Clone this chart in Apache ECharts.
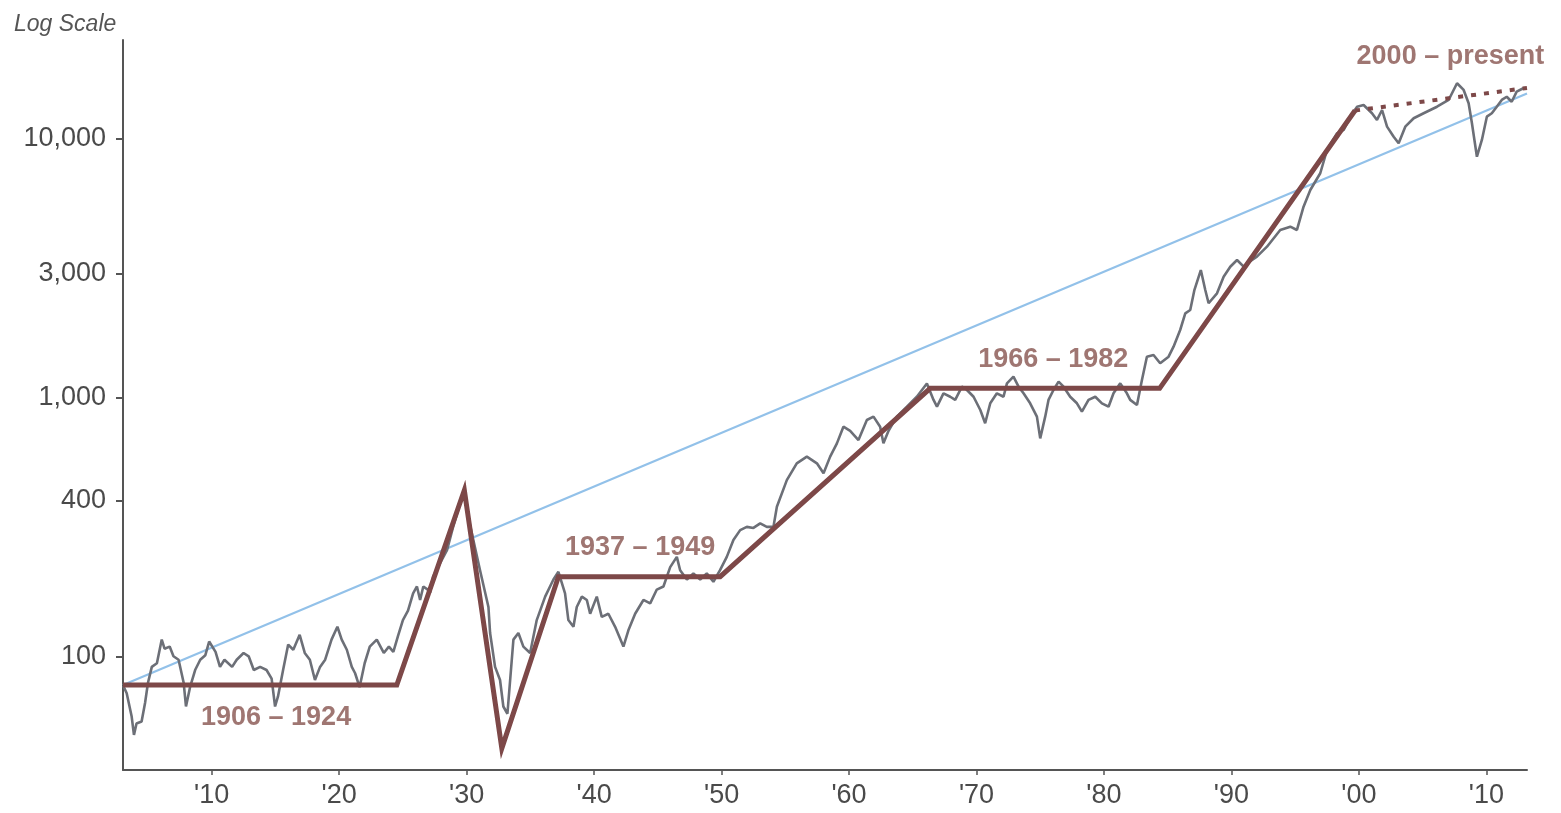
<!DOCTYPE html>
<html><head><meta charset="utf-8">
<script src="https://cdn.jsdelivr.net/npm/echarts@6/dist/echarts.min.js"></script>
<style>html,body{margin:0;padding:0;background:#ffffff}#c{width:1561px;height:813px}</style>
</head><body><div id="c"></div>
<script>
// Index level (log scale)
const indexYears = [
1903.06,1903.33,1903.72,1903.9,1904.1,1904.5,1904.77,1905.0,1905.3,1905.7,1906.08,1906.3,1906.7,1907.0,1907.4,1907.8,1907.98,1908.3,1908.7,1909.1,1909.5,1909.8,
1910.3,1910.65,1911.0,1911.6,1911.96,1912.5,1912.9,1913.3,1913.8,1914.3,1914.7,1914.97,1915.2,1915.6,1916.0,1916.4,1916.9,1917.3,1917.7,1918.1,1918.5,1918.9,1919.4,1919.86,
1920.2,1920.6,1920.99,1921.25,1921.6,1922.0,1922.4,1922.95,1923.5,1923.9,1924.25,1924.6,1925.0,1925.4,1925.8,1926.1,1926.35,1926.6,1927.0,1927.13,1927.37,1927.92,1928.46,1928.94,1929.33,1929.6,1929.8,
1930.1,1930.4,1931.05,1931.71,1931.84,1932.23,1932.62,1932.88,1933.2,1933.67,1934.06,1934.45,1934.98,1935.5,1936.16,1936.81,1937.2,1937.72,1937.98,1938.38,1938.64,1939.04,1939.43,1939.69,
1940.21,1940.6,1941.12,1941.65,1942.3,1942.69,1943.22,1943.87,1944.4,1944.92,1945.44,1945.97,1946.49,1946.75,1947.28,1947.79,1948.32,1948.84,1949.36,1949.88,
1950.41,1950.93,1951.46,1951.98,1952.5,1953.03,1953.55,1954.07,1954.34,1955.12,1955.9,1956.69,1957.48,1958.0,1958.52,1959.05,1959.56,
1960.09,1960.74,1961.4,1961.92,1962.44,1962.7,1963.1,1963.75,1964.54,1965.32,1966.11,1966.63,1966.9,1967.41,1967.94,1968.33,1968.86,1969.25,1969.77,
1970.3,1970.68,1971.08,1971.6,1972.12,1972.39,1972.9,1973.3,1973.69,1974.21,1974.74,1975.0,1975.39,1975.65,1976.04,1976.44,1976.83,1977.35,1977.88,1978.27,1978.79,1979.32,1979.84,
1980.36,1980.75,1981.28,1981.8,1982.06,1982.59,1982.98,1983.37,1983.89,1984.41,1985.07,1985.46,1985.98,1986.38,1986.77,1987.1,1987.6,1987.95,1988.21,1988.87,1989.39,1989.91,
1990.44,1990.96,1991.22,1992.0,1992.79,1993.83,1994.62,1995.14,1995.66,1996.19,1996.97,1997.5,1998.28,1998.81,1999.33,1999.86,
2000.37,2001.03,2001.42,2001.82,2002.21,2002.73,2003.12,2003.64,2004.3,2005.08,2006.13,2007.04,2007.7,2008.22,2008.61,2008.87,2009.26,2009.65,
2010.04,2010.43,2010.82,2011.21,2011.6,2011.99,2012.38,2012.9
];
const indexValues = [
77,72,58.5,49.7,55,56,66,79,91,94,116,107,109,100,97,79,64,76,88.5,97,101,114,
104,91,97,91,97,103,100,88.5,91,88.5,82,64,70,88.5,111,106,121,103,97,81,91,97,116,130,
116,106,91,86,76,94,109,116,103,109,104,119,138,150,175,186,165,186,180,176,203,229,257,316,367,410,425,
350,300,215,155,123,91,81,64,60,116,123,109,103,138,170,198,212,175,138,130,155,170,165,146,
170,142,146,130,109,126,146,165,160,181,186,221,242,215,198,209,198,209,194,215,
242,281,307,316,313,326,316,316,378,479,556,590,556,509,590,664,770,
742,684,817,842,770,664,742,842,920,1005,1130,977,920,1036,1005,977,1099,1067,1005,
893,794,948,1036,1005,1132,1201,1099,1036,948,842,694,842,977,1067,1149,1099,1005,948,880,977,1005,948,
920,1036,1132,1036,977,934,1166,1435,1457,1353,1435,1568,1819,2110,2173,2600,3100,2596,2307,2520,2922,3193,
3389,3193,3291,3491,3815,4426,4557,4426,5444,6316,7328,9012,10450,10770,12120,13240,
13450,12490,11770,12860,11090,10140,9565,11090,11950,12490,13240,14060,16310,15370,13650,11430,8490,9850,
12120,12490,13240,14060,14470,13840,15140,15600
];
// Secular trend segments (brown)
const trendYears = [1903.04, 1924.52, 1929.82, 1932.76, 1937.2, 1949.89, 1966.37, 1984.37, 1999.7];
const trendValues = [77.5, 77.5, 438, 44.1, 203, 203, 1083, 1083, 12800];
const presentYears = [1999.7, 2013.19];
const presentValues = [12800, 15640];
// Long-run trend (blue)
const longYears = [1903.04, 2013.19];
const longValues = [77.4, 14890];
// Ticks
const xTickYears = [1910, 1920, 1930, 1940, 1950, 1960, 1970, 1980, 1990, 2000, 2010];
const yTickValues = [100, 400, 1000, 3000, 10000];
// Annotations
const annotationTexts = ['1906 \u2013 1924', '1937 \u2013 1949', '1966 \u2013 1982', '2000 \u2013 present'];
const annotationYears = [1915.05, 1943.61, 1976.02, 2007.18];
const annotationValues = [57.8, 262, 1393, 20600];

const zip = (a, b) => a.map((x, i) => [x, b[i]]);
const FONT = 'Liberation Sans, Arial, sans-serif';
const chart = echarts.init(document.getElementById('c'), null, {renderer: 'canvas'});
chart.setOption({
  animation: false,
  backgroundColor: '#ffffff',
  title: {
    text: 'Log Scale', left: 9, top: 8,
    textStyle: {fontFamily: FONT, fontSize: 23, fontStyle: 'italic', fontWeight: 'normal', color: '#555555'}
  },
  grid: {left: 123, right: 34, top: 40, bottom: 43, containLabel: false},
  xAxis: {
    type: 'value', min: 1903.04, max: 2013.19,
    splitLine: {show: false},
    axisLine: {show: true, lineStyle: {color: '#555555', width: 2}},
    axisTick: {show: true, length: 5, customValues: xTickYears, lineStyle: {color: '#555555', width: 1.5}},
    axisLabel: {customValues: xTickYears, margin: 12, fontFamily: FONT, fontSize: 27, color: '#4a4a4a',
      formatter: v => "'" + String(Math.round(v)).slice(2)}
  },
  yAxis: {
    type: 'log', min: 36.39, max: 23961, logBase: 10,
    splitLine: {show: false},
    axisLine: {show: true, lineStyle: {color: '#555555', width: 2}},
    axisTick: {show: true, length: 7, customValues: yTickValues, lineStyle: {color: '#555555', width: 2}},
    axisLabel: {customValues: yTickValues, margin: 17, fontFamily: FONT, fontSize: 27, color: '#4a4a4a',
      formatter: v => Math.round(v).toLocaleString('en-US')}
  },
  series: [
    {type: 'line', data: zip(longYears, longValues), symbol: 'none', silent: true,
      lineStyle: {color: '#92c1e9', width: 2.2}, z: 2},
    {type: 'line', data: zip(indexYears, indexValues), symbol: 'none', silent: true,
      lineStyle: {color: '#6c6f77', width: 2.6}, z: 3},
    {type: 'line', data: zip(trendYears, trendValues), symbol: 'none', silent: true,
      lineStyle: {color: '#7d4848', width: 5, join: 'miter'}, z: 4},
    {type: 'line', data: zip(presentYears, presentValues), symbol: 'none', silent: true,
      lineStyle: {color: '#7d4848', width: 4, type: [5, 8]}, z: 4},
    {type: 'scatter', symbolSize: 0, silent: true, z: 5,
      data: annotationTexts.map((t, i) => ({name: t, value: [annotationYears[i], annotationValues[i]]})),
      label: {show: true, position: 'inside', formatter: '{b}', fontFamily: FONT, fontSize: 27,
        fontWeight: 'bold', color: '#87544f'}}
  ]
});
</script></body></html>
